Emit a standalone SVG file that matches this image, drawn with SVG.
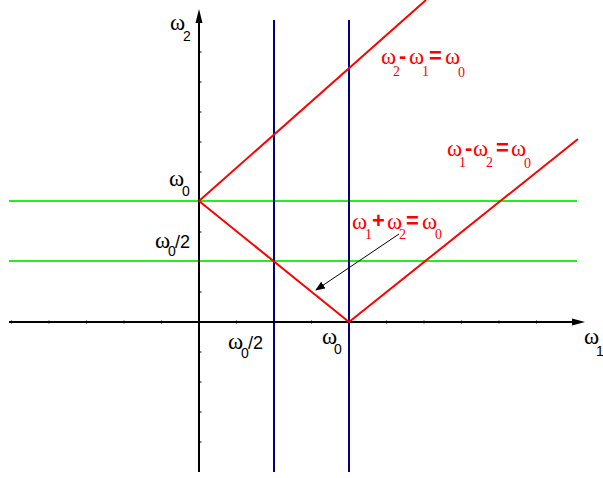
<svg xmlns="http://www.w3.org/2000/svg" width="603" height="478" viewBox="0 0 603 478">
<style>
.ax{stroke:#000;stroke-width:2;fill:none}
.tk{stroke:#000;stroke-width:1}
.red{stroke:#ff0000;stroke-width:2;fill:none}
.grn{stroke:#22ee22;stroke-width:2;fill:none}
.blu{stroke:#000080;stroke-width:2;fill:none}
.lbl{font-family:"Liberation Serif","DejaVu Serif",serif;font-size:23px}
.w{font-family:"Liberation Serif","DejaVu Serif",serif;font-size:23px}
.s{font-family:"Liberation Serif","DejaVu Serif",serif;font-size:14px}
.ss{font-family:"Liberation Sans",Arial,sans-serif;font-size:14px}
.op{font-family:"Liberation Sans",Arial,sans-serif;font-size:22px;font-weight:bold}
.sl{font-family:"Liberation Sans",Arial,sans-serif;font-size:18px}
.rt{fill:#ff0000}
.bk{fill:#000}
</style>
<defs>
<marker id="ah" markerWidth="10" markerHeight="8" refX="9" refY="4" orient="auto" markerUnits="userSpaceOnUse">
<path d="M0,0 L10,4 L0,8 Z" fill="#000"/>
</marker>
</defs>
<g id="grid-lines">
<line class="grn" x1="9" y1="201" x2="577" y2="201"/>
<line class="grn" x1="9" y1="261" x2="577" y2="261"/>
<line class="blu" x1="274" y1="20" x2="274" y2="472"/>
<line class="blu" x1="349" y1="20" x2="349" y2="472"/>
</g>
<g id="axes">
<line class="ax" x1="9" y1="322" x2="574" y2="322" stroke="#222"/>
<path d="M572,318.5 L585,322 L572,325.5 Z" fill="#000"/>
<line class="ax" x1="199" y1="472" x2="199" y2="22" stroke-width="2.5"/>
<path d="M195.5,23 L199,9 L202.5,23 Z" fill="#000"/>
<g id="x-ticks">
<line class="tk" x1="11.5" y1="320.5" x2="11.5" y2="323.5"/>
<line class="tk" x1="49" y1="320.5" x2="49" y2="323.5"/>
<line class="tk" x1="86.5" y1="320.5" x2="86.5" y2="323.5"/>
<line class="tk" x1="124" y1="320.5" x2="124" y2="323.5"/>
<line class="tk" x1="161.5" y1="320.5" x2="161.5" y2="323.5"/>
<line class="tk" x1="236.5" y1="320.5" x2="236.5" y2="323.5"/>
<line class="tk" x1="311.5" y1="320.5" x2="311.5" y2="323.5"/>
<line class="tk" x1="386.5" y1="320.5" x2="386.5" y2="323.5"/>
<line class="tk" x1="424" y1="320.5" x2="424" y2="323.5"/>
<line class="tk" x1="461.5" y1="320.5" x2="461.5" y2="323.5"/>
<line class="tk" x1="499" y1="320.5" x2="499" y2="323.5"/>
<line class="tk" x1="536.5" y1="320.5" x2="536.5" y2="323.5"/>
</g>
<g id="y-ticks">
<line class="tk" x1="199" y1="292" x2="201.5" y2="292"/>
<line class="tk" x1="199" y1="232" x2="201.5" y2="232"/>
<line class="tk" x1="199" y1="172" x2="201.5" y2="172"/>
<line class="tk" x1="199" y1="142" x2="201.5" y2="142"/>
<line class="tk" x1="199" y1="112" x2="201.5" y2="112"/>
<line class="tk" x1="199" y1="82" x2="201.5" y2="82"/>
<line class="tk" x1="199" y1="52" x2="201.5" y2="52"/>
<line class="tk" x1="199" y1="352" x2="201.5" y2="352"/>
<line class="tk" x1="199" y1="382" x2="201.5" y2="382"/>
<line class="tk" x1="199" y1="412" x2="201.5" y2="412"/>
<line class="tk" x1="199" y1="442" x2="201.5" y2="442"/>
</g>
</g>
<g id="red-lines">
<line class="red" x1="199" y1="201" x2="426" y2="0"/>
<polyline class="red" points="199,201 349,322 578,139"/>
</g>
<g id="connectors">
<line x1="399" y1="234" x2="316" y2="290" stroke="#000" stroke-width="1" marker-end="url(#ah)"/>
</g>
<g id="label-w2-axis">
<text class="lbl bk"><tspan class="w" x="170" y="30">ω</tspan><tspan class="ss" x="183" y="41">2</tspan></text>
</g>
<g id="label-w1-axis">
<text class="lbl bk"><tspan class="w" x="584" y="344">ω</tspan><tspan class="ss" x="596" y="356">1</tspan></text>
</g>
<g id="label-w0-y">
<text class="lbl bk"><tspan class="w" x="169" y="186">ω</tspan><tspan class="ss" x="182" y="196">0</tspan></text>
</g>
<g id="label-w0half-y">
<text class="lbl bk"><tspan class="w" x="155" y="248">ω</tspan><tspan class="ss" x="168" y="256">0</tspan><tspan class="sl" x="175" y="248">/2</tspan></text>
</g>
<g id="label-w0half-x">
<text class="lbl bk"><tspan class="w" x="228" y="349">ω</tspan><tspan class="ss" x="241" y="358">0</tspan><tspan class="sl" x="248" y="349">/2</tspan></text>
</g>
<g id="label-w0-x">
<text class="lbl bk"><tspan class="w" x="322" y="344">ω</tspan><tspan class="ss" x="334" y="354">0</tspan></text>
</g>
<g id="label-eq1">
<text class="lbl rt"><tspan class="w" x="381" y="64">ω</tspan><tspan class="s" x="393" y="76">2</tspan><tspan class="op" x="399" y="63">-</tspan><tspan class="w" x="409" y="64">ω</tspan><tspan class="s" x="422" y="76">1</tspan><tspan class="op" x="429" y="63">=</tspan><tspan class="w" x="445" y="64">ω</tspan><tspan class="s" x="458" y="77">0</tspan></text>
</g>
<g id="label-eq2">
<text class="lbl rt"><tspan class="w" x="447" y="156">ω</tspan><tspan class="s" x="459" y="167">1</tspan><tspan class="op" x="465" y="155">-</tspan><tspan class="w" x="473" y="156">ω</tspan><tspan class="s" x="486" y="167">2</tspan><tspan class="op" x="496" y="155">=</tspan><tspan class="w" x="511" y="156">ω</tspan><tspan class="s" x="524" y="168">0</tspan></text>
</g>
<g id="label-eq3">
<text class="lbl rt"><tspan class="w" x="352" y="229">ω</tspan><tspan class="s" x="365" y="239">1</tspan><tspan class="op" x="372" y="228">+</tspan><tspan class="w" x="387" y="229">ω</tspan><tspan class="s" x="399" y="239">2</tspan><tspan class="op" x="406" y="228">=</tspan><tspan class="w" x="422" y="229">ω</tspan><tspan class="s" x="435" y="239">0</tspan></text>
</g>
</svg>
